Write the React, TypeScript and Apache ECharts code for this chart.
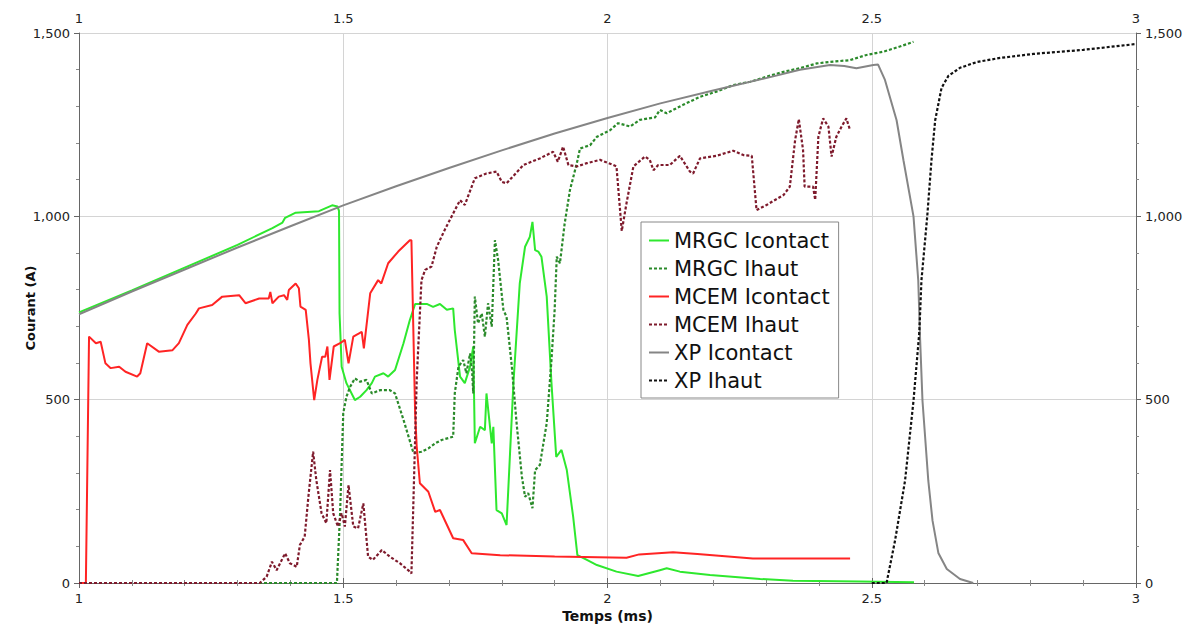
import React, { useEffect, useRef } from "react";
import * as echarts from "echarts";

// ---- Data (time in ms, current in A) ----
const mrgcIcontactT = [1.0, 1.1, 1.2, 1.3, 1.366, 1.385, 1.39, 1.41, 1.454, 1.479, 1.489, 1.492, 1.493, 1.497, 1.506, 1.522, 1.532, 1.544, 1.554, 1.56, 1.576, 1.585, 1.598, 1.614, 1.626, 1.636, 1.658, 1.67, 1.683, 1.696, 1.708, 1.711, 1.721, 1.73, 1.74, 1.746, 1.749, 1.759, 1.768, 1.771, 1.781, 1.784, 1.79, 1.8, 1.809, 1.822, 1.834, 1.844, 1.853, 1.858, 1.863, 1.869, 1.875, 1.885, 1.894, 1.903, 1.913, 1.923, 1.935, 1.943, 1.961, 1.98, 2.017, 2.058, 2.099, 2.112, 2.137, 2.194, 2.289, 2.351, 2.478, 2.58];
const mrgcIcontactA = [738, 798, 860, 922, 968, 983, 996, 1010, 1014, 1030, 1027, 1015, 735, 590, 545, 499, 508, 526, 545, 563, 572, 563, 581, 654, 717, 761, 761, 753, 761, 745, 749, 690, 563, 545, 590, 645, 381, 426, 417, 517, 381, 426, 199, 190, 158, 545, 817, 917, 944, 985, 908, 904, 890, 781, 545, 344, 363, 308, 181, 76, 63, 49, 31, 19, 35, 40, 31, 22, 11, 6, 4, 2];

const mrgcIhautT = [1.0, 1.488, 1.494, 1.5, 1.506, 1.513, 1.522, 1.532, 1.544, 1.554, 1.57, 1.588, 1.598, 1.614, 1.633, 1.648, 1.661, 1.674, 1.686, 1.708, 1.711, 1.718, 1.727, 1.733, 1.74, 1.744, 1.746, 1.749, 1.755, 1.762, 1.768, 1.774, 1.781, 1.787, 1.793, 1.803, 1.809, 1.819, 1.828, 1.838, 1.844, 1.85, 1.858, 1.863, 1.872, 1.885, 1.894, 1.9, 1.904, 1.91, 1.919, 1.929, 1.942, 1.948, 1.967, 1.98, 2.005, 2.02, 2.043, 2.061, 2.09, 2.099, 2.112, 2.143, 2.175, 2.206, 2.238, 2.27, 2.301, 2.333, 2.364, 2.396, 2.427, 2.459, 2.49, 2.522, 2.553, 2.579];
const mrgcIhautA = [0, 0, 190, 463, 508, 535, 558, 549, 554, 517, 526, 526, 517, 445, 354, 358, 367, 381, 390, 399, 517, 590, 608, 572, 626, 572, 517, 781, 708, 735, 672, 763, 699, 935, 881, 745, 726, 590, 436, 290, 235, 245, 204, 308, 322, 436, 608, 745, 890, 872, 981, 1072, 1145, 1185, 1194, 1217, 1235, 1254, 1245, 1263, 1270, 1290, 1281, 1304, 1326, 1340, 1358, 1367, 1381, 1394, 1404, 1417, 1422, 1426, 1440, 1449, 1463, 1476];

const mcemIcontactT = [1.0, 1.013, 1.019, 1.032, 1.041, 1.05, 1.06, 1.076, 1.088, 1.11, 1.116, 1.129, 1.151, 1.177, 1.189, 1.205, 1.221, 1.227, 1.252, 1.271, 1.303, 1.315, 1.341, 1.359, 1.362, 1.366, 1.378, 1.388, 1.394, 1.397, 1.41, 1.416, 1.419, 1.429, 1.435, 1.438, 1.445, 1.451, 1.46, 1.466, 1.47, 1.474, 1.482, 1.494, 1.503, 1.51, 1.519, 1.535, 1.539, 1.551, 1.566, 1.572, 1.585, 1.604, 1.626, 1.629, 1.636, 1.639, 1.645, 1.661, 1.674, 1.683, 1.708, 1.727, 1.743, 1.797, 1.9, 2.036, 2.06, 2.124, 2.17, 2.275, 2.459];
const mcemIcontactA = [0, 0, 672, 654, 658, 599, 586, 590, 576, 563, 572, 654, 631, 635, 654, 704, 735, 749, 758, 781, 785, 763, 776, 776, 794, 763, 781, 785, 772, 799, 817, 804, 754, 745, 663, 599, 499, 554, 617, 617, 645, 554, 645, 654, 663, 599, 672, 685, 640, 790, 826, 817, 872, 904, 935, 935, 463, 372, 272, 249, 194, 199, 122, 117, 81, 76, 72, 69, 78, 84, 79, 67, 67];

const mcemIhautT = [1.0, 1.342, 1.355, 1.365, 1.374, 1.39, 1.399, 1.412, 1.418, 1.427, 1.434, 1.443, 1.449, 1.459, 1.468, 1.475, 1.481, 1.49, 1.497, 1.503, 1.51, 1.519, 1.528, 1.538, 1.547, 1.556, 1.573, 1.588, 1.607, 1.626, 1.629, 1.633, 1.639, 1.648, 1.655, 1.667, 1.677, 1.692, 1.708, 1.721, 1.73, 1.749, 1.771, 1.79, 1.8, 1.809, 1.841, 1.872, 1.897, 1.906, 1.916, 1.926, 1.942, 1.961, 1.986, 2.011, 2.017, 2.027, 2.036, 2.049, 2.071, 2.08, 2.087, 2.096, 2.118, 2.137, 2.156, 2.162, 2.175, 2.206, 2.238, 2.257, 2.273, 2.282, 2.301, 2.333, 2.345, 2.355, 2.362, 2.37, 2.373, 2.389, 2.393, 2.399, 2.408, 2.418, 2.424, 2.433, 2.443, 2.452, 2.459];
const mcemIhautA = [0, 0, 17, 58, 35, 81, 54, 44, 104, 126, 235, 358, 281, 190, 163, 308, 190, 154, 190, 154, 267, 154, 149, 217, 72, 63, 90, 72, 54, 31, 26, 235, 554, 826, 854, 863, 917, 963, 1008, 1044, 1031, 1104, 1117, 1122, 1094, 1090, 1140, 1158, 1176, 1149, 1190, 1140, 1136, 1145, 1154, 1140, 1136, 960, 1036, 1136, 1163, 1154, 1126, 1140, 1140, 1165, 1122, 1117, 1158, 1165, 1179, 1167, 1165, 1017, 1031, 1058, 1081, 1208, 1265, 1181, 1081, 1081, 1045, 1217, 1267, 1245, 1163, 1217, 1245, 1267, 1235];

const xpIcontactT = [1.0, 1.1, 1.2, 1.3, 1.4, 1.5, 1.6, 1.7, 1.8, 1.9, 2.0, 2.1, 2.2, 2.3, 2.364, 2.421, 2.448, 2.471, 2.503, 2.512, 2.525, 2.547, 2.56, 2.579, 2.588, 2.591, 2.596, 2.607, 2.615, 2.626, 2.642, 2.667, 2.692];
const xpIcontactA = [733, 795, 855, 915, 973, 1030, 1082, 1132, 1180, 1226, 1268, 1308, 1343, 1377, 1400, 1413, 1410, 1404, 1413, 1414, 1372, 1262, 1153, 1000, 825, 684, 497, 279, 170, 82, 38, 11, 0];

const xpIhautT = [2.5, 2.528, 2.544, 2.563, 2.579, 2.59, 2.594, 2.605, 2.613, 2.62, 2.632, 2.645, 2.667, 2.699, 2.743, 2.806, 2.9, 3.0];
const xpIhautA = [0, 0, 115, 279, 497, 684, 825, 1000, 1153, 1262, 1350, 1383, 1405, 1421, 1432, 1443, 1454, 1470];

const seriesNames = ["MRGC Icontact", "MRGC Ihaut", "MCEM Icontact", "MCEM Ihaut", "XP Icontact", "XP Ihaut"];
const xTitle = "Temps (ms)";
const yTitle = "Courant (A)";

const zip = (t: number[], a: number[]) => t.map((v, i) => [v, a[i]]);

const FONT = "DejaVu Sans, Verdana, sans-serif";

export default function App() {
  const ref = useRef<HTMLDivElement>(null);
  useEffect(() => {
    document.body.style.margin = "0";
    if (!ref.current) return;
    const chart = echarts.init(ref.current, null, { renderer: "svg" });

    const axisLine = { show: true, lineStyle: { color: "#666", width: 1 } };
    const axisTick = { show: true, length: 5, lineStyle: { color: "#666" } };
    const minorTick = { show: true, splitNumber: 5, length: 3, lineStyle: { color: "#888" } };
    const label = { color: "#222", fontSize: 13, fontFamily: FONT };
    const yFmt = (v: number) => v.toLocaleString("en-US");

    const dotted = [3, 2];
    const mk = (name: string, data: number[][], color: string, dashed: boolean, width = 2) => ({
      name,
      type: "line",
      data,
      symbol: "none",
      showSymbol: false,
      xAxisIndex: 0,
      yAxisIndex: 0,
      lineStyle: { color, width, type: dashed ? dotted : "solid" },
      itemStyle: { color },
      z: 2,
    });

    chart.setOption({
      animation: false,
      backgroundColor: "#fff",
      grid: { left: 79, right: 54, top: 33, bottom: 45, containLabel: false },
      legend: {
        orient: "vertical",
        left: 641,
        top: 222,
        padding: [8, 9, 7, 7],
        itemWidth: 20,
        itemHeight: 14,
        itemGap: 7,
        backgroundColor: "#fff",
        borderColor: "#888",
        borderWidth: 1,
        borderRadius: 0,
        itemStyle: { opacity: 0, borderWidth: 0 },
        textStyle: { fontSize: 21, lineHeight: 20, fontFamily: FONT, color: "#111" },
        data: seriesNames,
      },
      xAxis: [
        {
          type: "value",
          position: "bottom",
          min: 1,
          max: 3,
          interval: 0.5,
          name: xTitle,
          nameLocation: "middle",
          nameGap: 26,
          nameMoveOverlap: false,
          nameTextStyle: { fontWeight: "bold", fontSize: 14, fontFamily: FONT, color: "#111" },
          axisLine,
          axisTick,
          minorTick,
          axisLabel: { ...label, margin: 9 },
          splitLine: { show: true, lineStyle: { color: "#d4d4d4", width: 1 } },
        },
        {
          type: "value",
          position: "top",
          min: 1,
          max: 3,
          interval: 0.5,
          axisLine,
          axisTick,
          minorTick,
          axisLabel: { ...label, margin: 8 },
          splitLine: { show: false },
        },
      ],
      yAxis: [
        {
          type: "value",
          position: "left",
          min: 0,
          max: 1500,
          interval: 500,
          name: yTitle,
          nameLocation: "middle",
          nameGap: 42,
          nameMoveOverlap: false,
          nameTextStyle: { fontWeight: "bold", fontSize: 13, fontFamily: FONT, color: "#111" },
          axisLine,
          axisTick,
          minorTick,
          axisLabel: { ...label, margin: 9, formatter: yFmt },
          splitLine: { show: true, lineStyle: { color: "#d4d4d4", width: 1 } },
        },
        {
          type: "value",
          position: "right",
          min: 0,
          max: 1500,
          interval: 500,
          axisLine,
          axisTick,
          minorTick,
          axisLabel: { ...label, margin: 9, formatter: yFmt },
          splitLine: { show: false },
        },
      ],
      series: [
        mk(seriesNames[0], zip(mrgcIcontactT, mrgcIcontactA), "#2ee82e", false),
        mk(seriesNames[1], zip(mrgcIhautT, mrgcIhautA), "#2a8a2a", true, 2.2),
        mk(seriesNames[2], zip(mcemIcontactT, mcemIcontactA), "#ff2424", false),
        mk(seriesNames[3], zip(mcemIhautT, mcemIhautA), "#7e1a2c", true, 2.2),
        mk(seriesNames[4], zip(xpIcontactT, xpIcontactA), "#858585", false),
        mk(seriesNames[5], zip(xpIhautT, xpIhautA), "#111111", true, 2.2),
      ],
    });

    return () => chart.dispose();
  }, []);

  return <div ref={ref} style={{ width: 1190, height: 628 }} />;
}
